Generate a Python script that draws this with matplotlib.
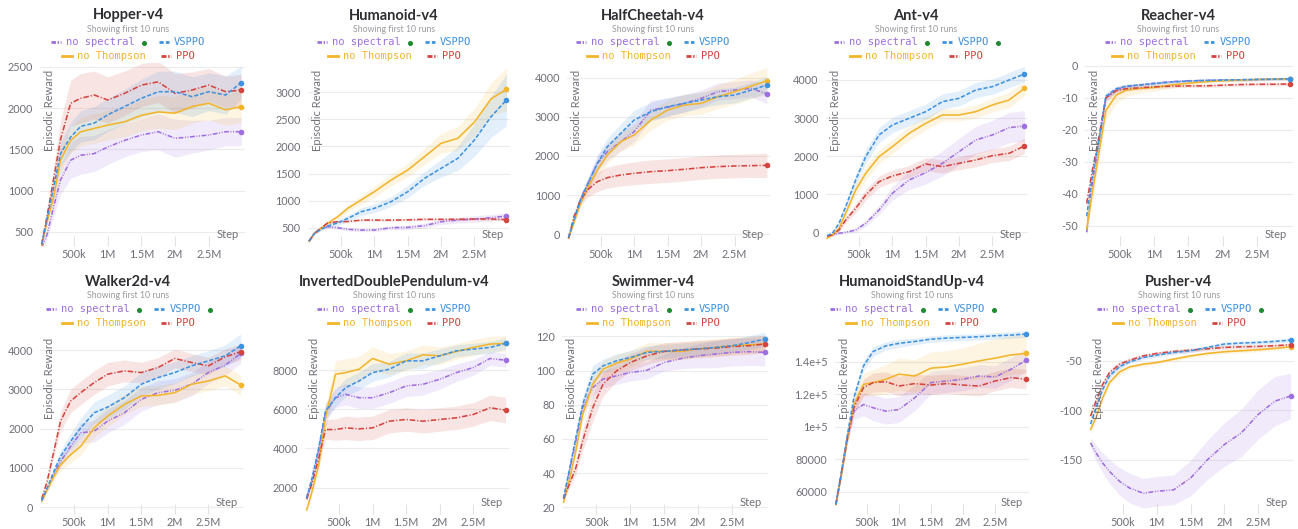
import matplotlib.pyplot as plt
from matplotlib.lines import Line2D

# -----------------------------
# Figure size in pixels
# -----------------------------

W, H = 1298, 529

# -----------------------------
# Shared data
# -----------------------------

steps = [0.02, 0.1, 0.2, 0.3, 0.45, 0.6, 0.8, 1.0, 1.25, 1.5, 1.75, 2.0, 2.25, 2.5, 2.75, 2.98]  # million

series_names = ["no spectral", "VSPPO", "no Thompson", "PPO"]
series_colors = ["#9d6fdf", "#3f92e0", "#f2b52b", "#d4453f"]

xtick_values = [0.5e6, 1e6, 1.5e6, 2e6, 2.5e6]
xtick_labels = ["500k", "1M", "1.5M", "2M", "2.5M"]

# -----------------------------
# Hopper-v4
# -----------------------------

hopper_no_spectral = [310, 470, 810, 1130, 1370, 1430, 1450, 1530, 1610, 1675, 1715, 1635, 1655, 1675, 1715, 1715]
hopper_vsppo = [350, 660, 1050, 1450, 1650, 1780, 1820, 1920, 2020, 2120, 2200, 2200, 2140, 2200, 2160, 2310]
hopper_no_thompson = [340, 620, 930, 1370, 1610, 1715, 1755, 1795, 1835, 1915, 1955, 1940, 2020, 2060, 1980, 2020]
hopper_ppo = [350, 690, 1150, 1620, 2060, 2120, 2160, 2100, 2180, 2280, 2320, 2180, 2220, 2280, 2200, 2220]

hopper_no_spectral_band = [20, 60, 120, 180, 220, 230, 220, 210, 200, 200, 220, 230, 200, 180, 170, 170]
hopper_vsppo_band = [20, 60, 100, 150, 180, 190, 200, 200, 210, 230, 250, 250, 240, 230, 230, 200]
hopper_no_thompson_band = [20, 60, 100, 140, 160, 170, 180, 180, 180, 190, 200, 200, 200, 200, 190, 190]
hopper_ppo_band = [20, 80, 150, 230, 280, 300, 290, 280, 270, 260, 250, 240, 220, 200, 190, 190]

# -----------------------------
# Humanoid-v4
# -----------------------------

humanoid_no_spectral = [250, 395, 494, 520, 500, 470, 456, 456, 500, 506, 537, 610, 640, 660, 685, 715]
humanoid_vsppo = [250, 395, 470, 530, 590, 670, 795, 857, 980, 1165, 1410, 1596, 1780, 2120, 2550, 2858]
humanoid_no_thompson = [250, 395, 488, 580, 703, 857, 1011, 1165, 1380, 1565, 1810, 2058, 2150, 2450, 2880, 3055]
humanoid_ppo = [250, 395, 490, 590, 610, 615, 640, 640, 640, 645, 655, 655, 655, 660, 660, 650]

humanoid_no_spectral_band = [10, 15, 20, 25, 30, 30, 30, 30, 35, 40, 45, 50, 55, 60, 60, 60]
humanoid_vsppo_band = [10, 20, 30, 40, 50, 60, 70, 80, 90, 110, 130, 160, 220, 300, 380, 480]
humanoid_no_thompson_band = [10, 20, 30, 40, 50, 60, 80, 100, 110, 120, 150, 180, 220, 250, 300, 400]
humanoid_ppo_band = [10, 15, 20, 20, 20, 20, 20, 20, 20, 20, 20, 20, 25, 25, 25, 25]

# -----------------------------
# HalfCheetah-v4
# -----------------------------

halfcheetah_no_spectral = [-100, 350, 920, 1260, 1813, 2111, 2366, 2621, 3175, 3243, 3345, 3472, 3643, 3685, 3728, 3583]
halfcheetah_vsppo = [-80, 366, 877, 1260, 1813, 2238, 2579, 2919, 3132, 3260, 3345, 3430, 3515, 3557, 3685, 3813]
halfcheetah_no_thompson = [-100, 300, 792, 1175, 1643, 2026, 2366, 2536, 2919, 3175, 3302, 3345, 3515, 3643, 3787, 3923]
halfcheetah_ppo = [-100, 450, 877, 1132, 1345, 1447, 1515, 1557, 1600, 1626, 1660, 1702, 1728, 1745, 1753, 1762]

halfcheetah_no_spectral_band = [20, 60, 100, 150, 200, 220, 240, 250, 250, 240, 230, 220, 220, 220, 220, 250]
halfcheetah_vsppo_band = [20, 60, 100, 150, 200, 220, 240, 250, 240, 230, 220, 200, 200, 200, 200, 220]
halfcheetah_no_thompson_band = [20, 60, 100, 150, 200, 220, 240, 250, 250, 260, 270, 280, 300, 320, 330, 340]
halfcheetah_ppo_band = [20, 60, 120, 200, 250, 270, 280, 290, 300, 300, 300, 300, 300, 300, 300, 310]

# -----------------------------
# Ant-v4
# -----------------------------

ant_no_spectral = [-100, -70, -26, 0, 61, 236, 586, 1024, 1374, 1567, 1812, 2118, 2424, 2556, 2748, 2792]
ant_vsppo = [-88, -26, 236, 674, 1374, 1987, 2556, 2818, 2993, 3168, 3431, 3519, 3737, 3825, 4000, 4158]
ant_no_thompson = [-158, -70, 105, 499, 1111, 1549, 1987, 2249, 2600, 2862, 3081, 3081, 3168, 3344, 3475, 3781]
ant_ppo = [-100, -70, 61, 324, 630, 980, 1330, 1479, 1593, 1794, 1724, 1812, 1899, 2013, 2074, 2267]

ant_no_spectral_band = [20, 20, 30, 40, 60, 80, 120, 180, 250, 300, 330, 350, 360, 380, 400, 400]
ant_vsppo_band = [20, 30, 60, 100, 150, 180, 200, 200, 200, 200, 200, 200, 200, 200, 200, 200]
ant_no_thompson_band = [20, 30, 60, 100, 150, 180, 180, 180, 180, 170, 160, 160, 170, 180, 200, 200]
ant_ppo_band = [20, 30, 50, 80, 120, 140, 150, 160, 160, 170, 170, 170, 180, 180, 190, 200]

# -----------------------------
# Reacher-v4
# -----------------------------

reacher_no_spectral = [-52, -37, -24, -10, -7.5, -6.5, -6.0, -5.5, -5.0, -4.7, -4.6, -4.5, -4.4, -4.3, -4.2, -4.1]
reacher_vsppo = [-47, -35, -23, -9.5, -7.2, -6.4, -6.0, -5.6, -5.1, -4.8, -4.6, -4.5, -4.4, -4.3, -4.2, -4.1]
reacher_no_thompson = [-51, -40, -27, -14, -9.2, -7.6, -7.1, -6.8, -6.0, -5.5, -5.0, -4.7, -4.5, -4.3, -4.2, -4.1]
reacher_ppo = [-43, -33, -22, -10, -7.8, -7.2, -6.9, -6.6, -6.4, -6.3, -6.3, -6.1, -5.9, -5.8, -5.8, -5.7]

reacher_no_spectral_band = [1.5, 1.5, 1.5, 1, 0.8, 0.6, 0.5, 0.5, 0.4, 0.4, 0.4, 0.4, 0.4, 0.4, 0.4, 0.4]
reacher_vsppo_band = [1.5, 1.5, 1.5, 1, 0.8, 0.6, 0.5, 0.5, 0.4, 0.4, 0.4, 0.4, 0.4, 0.4, 0.4, 0.4]
reacher_no_thompson_band = [2, 2.5, 3, 3, 2.5, 2, 1.5, 1.2, 1, 0.8, 0.6, 0.5, 0.5, 0.4, 0.4, 0.4]
reacher_ppo_band = [1.5, 1.5, 1.2, 1, 0.8, 0.7, 0.6, 0.5, 0.5, 0.5, 0.5, 0.5, 0.5, 0.5, 0.5, 0.5]

# -----------------------------
# Walker2d-v4
# -----------------------------

walker_no_spectral = [180, 469, 844, 1168, 1552, 1893, 1936, 2192, 2405, 2746, 2917, 2977, 3130, 3429, 3616, 3915]
walker_vsppo = [170, 486, 912, 1296, 1680, 2021, 2405, 2550, 2789, 3130, 3301, 3429, 3599, 3727, 3855, 4111]
walker_no_thompson = [150, 443, 785, 1083, 1339, 1552, 2021, 2320, 2618, 2832, 2849, 2917, 3130, 3215, 3343, 3113]
walker_ppo = [213, 657, 1424, 2192, 2704, 2917, 3173, 3386, 3471, 3429, 3556, 3787, 3684, 3599, 3829, 3957]

walker_no_spectral_band = [30, 60, 100, 150, 200, 250, 280, 300, 300, 300, 300, 300, 300, 280, 260, 250]
walker_vsppo_band = [30, 60, 100, 150, 200, 250, 280, 300, 300, 300, 300, 280, 260, 260, 280, 300]
walker_no_thompson_band = [30, 60, 100, 150, 200, 220, 240, 260, 260, 260, 250, 250, 250, 250, 250, 250]
walker_ppo_band = [30, 80, 150, 250, 300, 300, 300, 300, 280, 260, 250, 240, 230, 220, 200, 200]

# -----------------------------
# InvertedDoublePendulum-v4
# -----------------------------

idp_no_spectral = [1500, 2395, 3937, 5823, 6594, 6766, 6594, 6594, 6851, 7194, 7280, 7537, 7880, 8137, 8600, 8514]
idp_vsppo = [1452, 2481, 4023, 5909, 6594, 7109, 7451, 7880, 8051, 8480, 8480, 8737, 8994, 9080, 9166, 9371]
idp_no_thompson = [852, 1795, 3166, 5566, 7794, 7880, 8051, 8600, 8309, 8480, 8789, 8737, 8960, 9166, 9337, 9371]
idp_ppo = [1400, 2224, 3509, 4966, 4966, 5052, 5000, 5052, 5394, 5480, 5394, 5480, 5566, 5737, 6080, 5960]

idp_no_spectral_band = [100, 200, 300, 400, 500, 550, 550, 550, 550, 550, 550, 500, 450, 400, 350, 350]
idp_vsppo_band = [100, 200, 300, 400, 450, 450, 450, 450, 400, 400, 400, 350, 300, 300, 300, 300]
idp_no_thompson_band = [100, 200, 400, 600, 700, 700, 650, 600, 550, 500, 500, 450, 400, 400, 400, 400]
idp_ppo_band = [100, 200, 400, 500, 550, 600, 600, 600, 600, 600, 600, 600, 600, 600, 650, 650]

# -----------------------------
# Swimmer-v4
# -----------------------------

swimmer_no_spectral = [25, 40, 58.7, 78.3, 90, 95, 96.9, 98.8, 100.2, 104.7, 107, 108.6, 109.6, 110.6, 111, 110.6]
swimmer_vsppo = [25.3, 41, 60.6, 80, 97.9, 102.7, 105.7, 107.6, 110.6, 111.2, 112, 112.6, 113.5, 114.5, 116.3, 118.4]
swimmer_no_thompson = [23, 35, 52.8, 74.3, 92, 100.8, 104.3, 106.7, 111.2, 111.2, 111.2, 112.6, 113.5, 114.5, 115, 115.5]
swimmer_ppo = [25, 33, 43, 58.7, 78.3, 92, 99.8, 104.7, 108.6, 111.2, 112, 112.6, 113.1, 114, 114.5, 115.5]

swimmer_no_spectral_band = [1, 2, 3, 4, 5, 5, 5, 5, 5, 5, 6, 7, 8, 8, 8, 8]
swimmer_vsppo_band = [1, 2, 3, 4, 5, 4, 4, 4, 4, 4, 4, 4, 4, 4, 4, 4]
swimmer_no_thompson_band = [1, 2, 3, 4, 5, 5, 5, 5, 5, 5, 5, 5, 5, 5, 5, 5]
swimmer_ppo_band = [1, 2, 4, 6, 8, 7, 6, 5, 5, 5, 5, 5, 5, 5, 5, 5]

# -----------------------------
# HumanoidStandUp-v4
# -----------------------------

hsu_no_spectral = [52000, 69300, 93000, 109600, 113700, 111700, 109600, 110600, 117900, 127200, 128200, 129300, 131300, 130700, 135500, 141000]
hsu_vsppo = [52150, 70340, 95150, 117900, 137500, 146400, 149900, 151400, 152600, 154000, 154700, 155100, 155500, 156100, 156500, 157200]
hsu_no_thompson = [52000, 69300, 93000, 113700, 126100, 127200, 129300, 132400, 131300, 136100, 136900, 138600, 140600, 142300, 144300, 145200]
hsu_ppo = [52000, 70300, 93000, 111700, 124100, 127200, 127800, 125100, 126600, 125700, 126600, 125700, 125100, 128200, 130300, 129300]

hsu_no_spectral_band = [1000, 2000, 3000, 5000, 7000, 8000, 8000, 8000, 8000, 7000, 7000, 7000, 7000, 7000, 7000, 7000]
hsu_vsppo_band = [1000, 2000, 3000, 3000, 3000, 3000, 2500, 2500, 2000, 2000, 2000, 2000, 2000, 2000, 2000, 2000]
hsu_no_thompson_band = [1000, 2000, 3000, 5000, 7000, 8000, 9000, 10000, 10000, 10000, 10000, 10000, 11000, 12000, 12000, 12000]
hsu_ppo_band = [1000, 2000, 3000, 4000, 5000, 6000, 6000, 6000, 6000, 6000, 6000, 6000, 6000, 6000, 6000, 6000]

# -----------------------------
# Pusher-v4
# -----------------------------

pusher_no_spectral = [-133, -143, -153.4, -161.9, -172, -178.8, -184, -182, -180.5, -168.6, -150, -134.7, -122.9, -104.2, -90.7, -85.6]
pusher_vsppo = [-114, -97.5, -78.8, -65.3, -55.8, -51, -46.6, -44.2, -41.5, -39.8, -36.4, -33, -32, -31.4, -30.3, -29]
pusher_no_thompson = [-119.5, -107.6, -87.3, -72, -61.2, -56.1, -53.4, -51.7, -48.3, -45, -42.5, -40.8, -39.8, -38.8, -37.4, -35.8]
pusher_ppo = [-106, -90.7, -73.7, -61.9, -53.4, -49.3, -45, -42.5, -40.5, -39.2, -37.8, -36.4, -35.8, -35.4, -34.7, -33.7]

pusher_no_spectral_band = [5, 8, 10, 12, 14, 15, 15, 15, 15, 18, 20, 22, 24, 25, 25, 23]
pusher_vsppo_band = [3, 3, 3, 3, 3, 2, 2, 2, 2, 2, 2, 2, 2, 2, 2, 2]
pusher_no_thompson_band = [3, 3, 3, 3, 3, 2, 2, 2, 2, 2, 2, 2, 2, 2, 2, 2]
pusher_ppo_band = [3, 3, 3, 3, 3, 2, 2, 2, 2, 2, 2, 2, 2, 2, 2, 2]

# -----------------------------
# Y ticks per panel
# -----------------------------

hopper_yticks = [500, 1000, 1500, 2000, 2500]
humanoid_yticks = [500, 1000, 1500, 2000, 2500, 3000]
halfcheetah_yticks = [0, 1000, 2000, 3000, 4000]
ant_yticks = [0, 1000, 2000, 3000, 4000]
reacher_yticks = [-50, -40, -30, -20, -10, 0]
walker_yticks = [0, 1000, 2000, 3000, 4000]
idp_yticks = [2000, 4000, 6000, 8000]
swimmer_yticks = [20, 40, 60, 80, 100, 120]
hsu_yticks = [60000, 80000, 100000, 120000, 140000]
hsu_ytick_labels = ["60000", "80000", "1e+5", "1.2e+5", "1.4e+5"]
pusher_yticks = [-150, -100, -50]

# -----------------------------
# Panels
# -----------------------------

panels = [
    dict(title="Hopper-v4", row=0, center=128, x0=40.3, scale=67.4, ylim=(330, 2548),
         yticks=hopper_yticks, ylabels=None, dots=(True, False),
         means=[hopper_no_spectral, hopper_vsppo, hopper_no_thompson, hopper_ppo],
         bands=[hopper_no_spectral_band, hopper_vsppo_band, hopper_no_thompson_band, hopper_ppo_band]),
    dict(title="Humanoid-v4", row=0, center=394, x0=307.7, scale=66.7, ylim=(162, 3541),
         yticks=humanoid_yticks, ylabels=None, dots=(True, False),
         means=[humanoid_no_spectral, humanoid_vsppo, humanoid_no_thompson, humanoid_ppo],
         bands=[humanoid_no_spectral_band, humanoid_vsppo_band, humanoid_no_thompson_band, humanoid_ppo_band]),
    dict(title="HalfCheetah-v4", row=0, center=653, x0=567.2, scale=67.0, ylim=(-299, 4375),
         yticks=halfcheetah_yticks, ylabels=None, dots=(True, False),
         means=[halfcheetah_no_spectral, halfcheetah_vsppo, halfcheetah_no_thompson, halfcheetah_ppo],
         bands=[halfcheetah_no_spectral_band, halfcheetah_vsppo_band, halfcheetah_no_thompson_band, halfcheetah_ppo_band]),
    dict(title="Ant-v4", row=0, center=916, x0=825.7, scale=66.7, ylim=(-360, 4446),
         yticks=ant_yticks, ylabels=None, dots=(True, True),
         means=[ant_no_spectral, ant_vsppo, ant_no_thompson, ant_ppo],
         bands=[ant_no_spectral_band, ant_vsppo_band, ant_no_thompson_band, ant_ppo_band]),
    dict(title="Reacher-v4", row=0, center=1178, x0=1085.3, scale=68.6, ylim=(-56.3, 0.84),
         yticks=reacher_yticks, ylabels=None, dots=(False, False),
         means=[reacher_no_spectral, reacher_vsppo, reacher_no_thompson, reacher_ppo],
         bands=[reacher_no_spectral_band, reacher_vsppo_band, reacher_no_thompson_band, reacher_ppo_band]),
    dict(title="Walker2d-v4", row=1, center=128, x0=40.4, scale=67.2, ylim=(-171, 4486),
         yticks=walker_yticks, ylabels=None, dots=(True, True),
         means=[walker_no_spectral, walker_vsppo, walker_no_thompson, walker_ppo],
         bands=[walker_no_spectral_band, walker_vsppo_band, walker_no_thompson_band, walker_ppo_band]),
    dict(title="InvertedDoublePendulum-v4", row=1, center=394, x0=305.3, scale=67.2, ylim=(647, 10006),
         yticks=idp_yticks, ylabels=None, dots=(True, False),
         means=[idp_no_spectral, idp_vsppo, idp_no_thompson, idp_ppo],
         bands=[idp_no_spectral_band, idp_vsppo_band, idp_no_thompson_band, idp_ppo_band]),
    dict(title="Swimmer-v4", row=1, center=653, x0=562.2, scale=68.0, ylim=(16.1, 123.1),
         yticks=swimmer_yticks, ylabels=None, dots=(True, False),
         means=[swimmer_no_spectral, swimmer_vsppo, swimmer_no_thompson, swimmer_ppo],
         bands=[swimmer_no_spectral_band, swimmer_vsppo_band, swimmer_no_thompson_band, swimmer_ppo_band]),
    dict(title="HumanoidStandUp-v4", row=1, center=912, x0=834.6, scale=64.2, ylim=(46170, 159040),
         yticks=hsu_yticks, ylabels=hsu_ytick_labels, dots=(True, True),
         means=[hsu_no_spectral, hsu_vsppo, hsu_no_thompson, hsu_ppo],
         bands=[hsu_no_spectral_band, hsu_vsppo_band, hsu_no_thompson_band, hsu_ppo_band]),
    dict(title="Pusher-v4", row=1, center=1179, x0=1089.2, scale=67.6, ylim=(-205, -19.8),
         yticks=pusher_yticks, ylabels=None, dots=(True, True),
         means=[pusher_no_spectral, pusher_vsppo, pusher_no_thompson, pusher_ppo],
         bands=[pusher_no_spectral_band, pusher_vsppo_band, pusher_no_thompson_band, pusher_ppo_band]),
]

# -----------------------------
# Styling
# -----------------------------

plt.rcParams["font.family"] = ["Lato", "DejaVu Sans"]

# dash patterns (in line-width units)
line_styles = [(0, (3, 1, 0.6, 1, 0.6, 1)), (0, (2.6, 1.2)), "-", (0, (3.5, 1.2, 0.7, 1.2))]
legend_styles = [(0, (1.6, 0.6, 0.5, 0.6, 0.5, 0.6)), (0, (1.5, 0.8)), "-", (0, (1.8, 0.6, 0.5, 0.6))]

tick_color = "#6e6e78"
grid_color = "#ececec"
green = "#1d8a2e"

row_top = [63, 331]
row_bottom = [246, 514]
row_text = [0, 266.5]


def fx(x):
    return x / W


def fy(y):
    return 1 - y / H


fig = plt.figure(figsize=(W / 100, H / 100), dpi=100)

xs = [s * 1e6 for s in steps]

for p in panels:
    r = p["row"]
    top, bottom = row_top[r], row_bottom[r]
    left = p["x0"]
    right = left + p["scale"] * 3.03

    ax = fig.add_axes([fx(left), fy(bottom), (right - left) / W, (bottom - top) / H])

    # bands
    for k in [0, 2, 3, 1]:
        lo = [m - b for m, b in zip(p["means"][k], p["bands"][k])]
        hi = [m + b for m, b in zip(p["means"][k], p["bands"][k])]
        ax.fill_between(xs, lo, hi, color=series_colors[k], alpha=0.14, lw=0)

    # lines
    for k in [0, 2, 3, 1]:
        ax.plot(xs, p["means"][k], color=series_colors[k], linestyle=line_styles[k], lw=1.15)
        ax.plot(xs[-1], p["means"][k][-1], "o", ms=3, color=series_colors[k])

    ax.set_xlim(0, 3.03e6)
    ax.set_ylim(*p["ylim"])

    ax.set_xticks(xtick_values)
    ax.set_xticklabels(xtick_labels)
    ax.set_yticks(p["yticks"])
    if p["ylabels"] is not None:
        ax.set_yticklabels(p["ylabels"])
    else:
        ax.set_yticklabels([str(v) for v in p["yticks"]])

    ax.tick_params(axis="x", direction="in", length=7, width=0.8, color="#e2e2e2",
                   labelsize=7.8, labelcolor=tick_color, pad=2)
    ax.tick_params(axis="y", length=0, labelsize=7.8, labelcolor=tick_color, pad=5)

    ax.yaxis.grid(True, color=grid_color, lw=0.8)
    ax.set_axisbelow(True)
    for s in ax.spines.values():
        s.set_visible(False)

    w_px = right - left
    h_px = bottom - top
    ax.text(4 / w_px, 1 - 7 / h_px, "Episodic Reward", transform=ax.transAxes,
            rotation=90, ha="left", va="top", fontsize=8, color="#707078")
    ax.text(1 - 6 / w_px, 6 / h_px, "Step", transform=ax.transAxes,
            ha="right", va="bottom", fontsize=8, color="#707078")

    # titles
    c = p["center"]
    dy = row_text[r]
    fig.text(fx(c), fy(15.5 + dy), p["title"], ha="center", va="center",
             fontsize=10.5, fontweight="bold", color="#2e2e33")
    fig.text(fx(c), fy(29.3 + dy), "Showing first 10 runs", ha="center", va="center",
             fontsize=6.3, color="#9a9a9f")

    # legend rows
    cw = 6.27
    rows = [[(0, p["dots"][0]), (1, p["dots"][1])], [(2, False), (3, False)]]
    for ri, items in enumerate(rows):
        y = 42 + 14 * ri + dy
        width = 0
        for n, (k, dot) in enumerate(items):
            width += 15 + len(series_names[k]) * cw
            if dot:
                width += 9
            if n < len(items) - 1:
                width += 15
        x = c - width / 2
        for k, dot in items:
            fig.add_artist(Line2D([fx(x), fx(x + 10)], [fy(y), fy(y)],
                                  color=series_colors[k], linestyle=legend_styles[k], lw=2))
            fig.text(fx(x + 15), fy(y), series_names[k], ha="left", va="center",
                     fontsize=7.5, family="DejaVu Sans Mono", color=series_colors[k])
            x += 15 + len(series_names[k]) * cw
            if dot:
                fig.add_artist(Line2D([fx(x + 9)], [fy(y + 1)], marker="o", ms=2.6,
                                      color=green, lw=0))
                x += 9
            x += 15

plt.savefig("out.png", dpi=100)
